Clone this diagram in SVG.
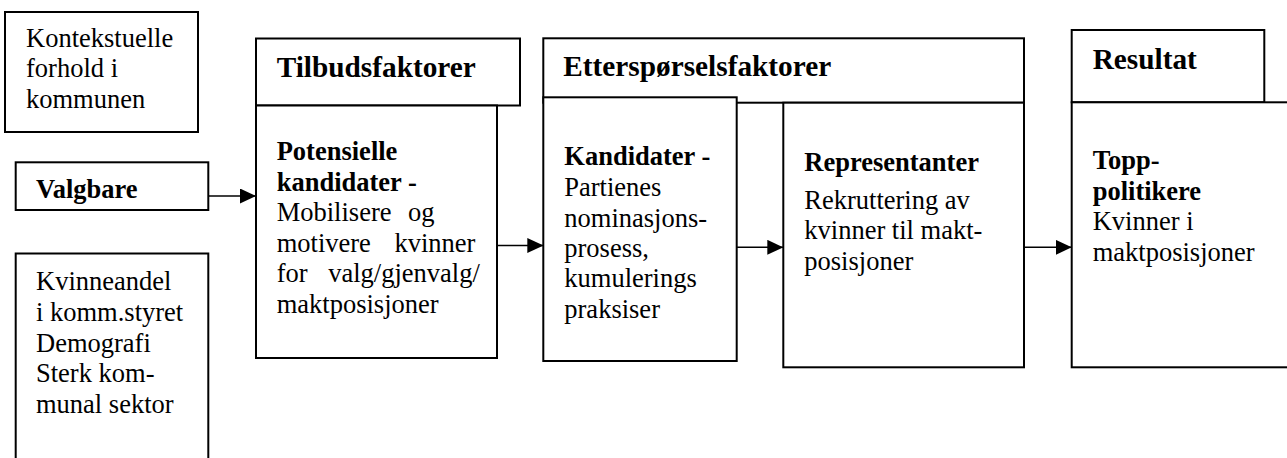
<svg xmlns="http://www.w3.org/2000/svg" width="1287" height="458" viewBox="0 0 1287 458">
<style>
.box{fill:#fff;stroke:#000;stroke-width:2}
.t{font-family:"Liberation Serif","Times New Roman",serif;font-size:26.5px;fill:#000}
.b{font-weight:bold}
.h{font-family:"Liberation Serif","Times New Roman",serif;font-size:29.3px;font-weight:bold;fill:#000}
.c{stroke:#000;stroke-width:1.6;fill:none}
</style>
<defs>
<marker id="ah" markerUnits="userSpaceOnUse" markerWidth="16" markerHeight="15" refX="16" refY="7.5" orient="auto">
<path d="M0,0 L16,7.5 L0,15 z" fill="#000"/>
</marker>
</defs>
<rect x="0" y="0" width="1287" height="458" fill="#fff"/>

<g id="kontekst">
<rect class="box" x="5" y="12" width="193" height="120"/>
<text class="t" x="26" y="46.7">Kontekstuelle</text>
<text class="t" x="26" y="77">forhold i</text>
<text class="t" x="26" y="107.5">kommunen</text>
</g>

<g id="valgbare">
<rect class="box" x="15.7" y="162.3" width="192.6" height="47.7"/>
<text class="t b" x="36" y="198">Valgbare</text>
</g>

<g id="kvinneandel">
<rect class="box" x="15.7" y="253.5" width="192.6" height="220"/>
<text class="t" x="36" y="290">Kvinneandel</text>
<text class="t" x="36" y="320.7">i komm.styret</text>
<text class="t" x="36" y="351.5">Demografi</text>
<text class="t" x="36" y="382">Sterk kom-</text>
<text class="t" x="36" y="412.7">munal sektor</text>
</g>

<g id="tilbud">
<rect class="box" x="256" y="38.5" width="264" height="67"/>
<text class="h" x="276.7" y="77.3">Tilbudsfaktorer</text>
<rect class="box" x="256" y="105.5" width="241" height="252.5"/>
<text class="t b" x="276.7" y="160">Potensielle</text>
<text class="t b" x="276.7" y="190.7">kandidater -</text>
<text class="t" x="276.7" y="220.7" word-spacing="10">Mobilisere og</text>
<text class="t" x="276.7" y="251.7" word-spacing="17">motivere kvinner</text>
<text class="t" x="276.7" y="281.7" word-spacing="14">for valg/gjenvalg/</text>
<text class="t" x="276.7" y="312.7">maktposisjoner</text>
</g>

<g id="etterspoersel">
<rect class="box" x="543.3" y="38.3" width="480.7" height="64.4"/>
<text class="h" x="563.3" y="76">Etterspørselsfaktorer</text>
</g>

<g id="kandidater">
<rect class="box" x="543.3" y="97.3" width="193.4" height="263.7"/>
<text class="t b" x="564.3" y="165">Kandidater -</text>
<text class="t" x="564.3" y="195.7">Partienes</text>
<text class="t" x="564.3" y="226.7">nominasjons-</text>
<text class="t" x="564.3" y="256.7">prosess,</text>
<text class="t" x="564.3" y="287.3">kumulerings</text>
<text class="t" x="564.3" y="318.3">praksiser</text>
</g>

<g id="representanter">
<rect class="box" x="783.3" y="102.7" width="240.7" height="264.6"/>
<text class="t b" x="804.3" y="170.7">Representanter</text>
<text class="t" x="804.3" y="209.3">Rekruttering av</text>
<text class="t" x="804.3" y="239.3">kvinner til makt-</text>
<text class="t" x="804.3" y="269.7">posisjoner</text>
</g>

<g id="resultat">
<rect class="box" x="1071.7" y="30" width="192.6" height="72.3"/>
<text class="h" x="1092.7" y="69">Resultat</text>
<rect class="box" x="1071.7" y="102.3" width="240" height="265"/>
<text class="t b" x="1092.7" y="169">Topp-</text>
<text class="t b" x="1092.7" y="199.5">politikere</text>
<text class="t" x="1092.7" y="230">Kvinner i</text>
<text class="t" x="1092.7" y="260.5">maktposisjoner</text>
</g>

<g id="connectors">
<line class="c" x1="208.3" y1="196" x2="256" y2="196" marker-end="url(#ah)"/>
<line class="c" x1="497" y1="245.5" x2="543.3" y2="245.5" marker-end="url(#ah)"/>
<line class="c" x1="736.7" y1="247.3" x2="783.3" y2="247.3" marker-end="url(#ah)"/>
<line class="c" x1="1024" y1="247.3" x2="1071.7" y2="247.3" marker-end="url(#ah)"/>
</g>
</svg>
